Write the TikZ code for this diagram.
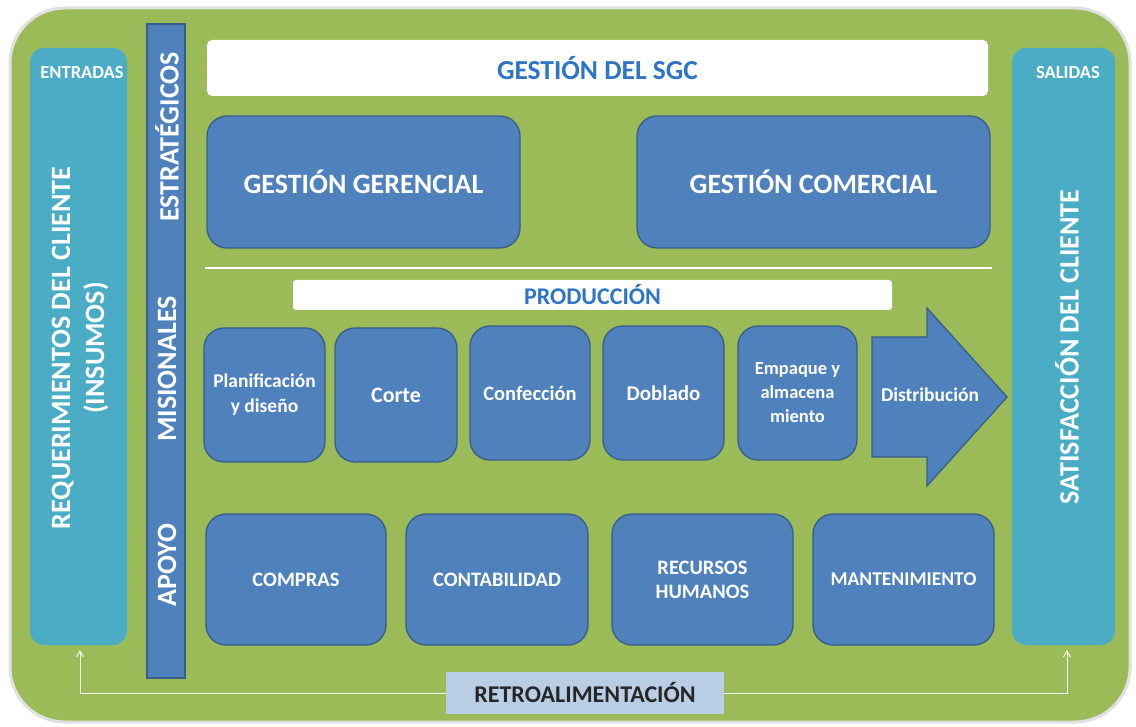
\documentclass[tikz,border=0pt]{standalone}
\usepackage{fontspec}
\setmainfont{Carlito}
\usetikzlibrary{arrows.meta}
\definecolor{bggreen}{HTML}{9BBB59}
\definecolor{cyanbox}{HTML}{4BACC6}
\definecolor{bluebox}{HTML}{4F81BD}
\definecolor{blueedge}{HTML}{385D8A}
\definecolor{titleblue}{HTML}{2E75C6}
\definecolor{retrofill}{HTML}{B9CDE5}
\tikzset{
  procbox/.style={draw=blueedge, line width=1.3pt, fill=bluebox, rounded corners=20pt, text=white, font=\bfseries, align=center, inner sep=2pt},
  sidebox/.style={fill=cyanbox, rounded corners=14pt},
  whitebar/.style={fill=white, rounded corners=5pt, text=titleblue, font=\bfseries},
  vlabel/.style={rotate=90, text=white, font=\bfseries, align=center},
  feed/.style={draw=white!90!bggreen, line width=1pt, -{Straight Barb[length=6pt,width=7pt]}}
}
\begin{document}
\begin{tikzpicture}[x=1pt,y=-1pt]
\useasboundingbox (0,0) rectangle (1136,727);
\fill[white] (0,0) rectangle (1136,727);
% outer frame
\draw[draw=black!12, line width=3pt, fill=bggreen, rounded corners=55pt] (10,8) rectangle (1130,722);
% side boxes
\node[sidebox, minimum width=97pt, minimum height=597pt] (inbox) at (78.5,346.5) {};
\node[sidebox, minimum width=103pt, minimum height=597pt] (outbox) at (1063.5,346.5) {};
\node[text=white, font=\bfseries\fontsize{18.5}{20}\selectfont] (entradas) at (82,73) {ENTRADAS};
\node[text=white, font=\bfseries\fontsize{18.5}{20}\selectfont] (salidas) at (1068,73) {SALIDAS};
\node[vlabel, font=\bfseries\fontsize{28}{34}\selectfont] (req) at (80,348) {REQUERIMIENTOS DEL CLIENTE\\(INSUMOS)};
\node[vlabel, font=\bfseries\fontsize{28}{30}\selectfont] (sat) at (1067,347) {SATISFACCIÓN DEL CLIENTE};
% vertical bar
\node[draw=blueedge, line width=1.3pt, fill=bluebox, minimum width=38pt, minimum height=654pt, inner sep=0pt] (vbar) at (166,351) {};
\node[vlabel, font=\bfseries\fontsize{28}{30}\selectfont] (estr) at (167,137) {ESTRATÉGICOS};
\node[vlabel, font=\bfseries\fontsize{28}{30}\selectfont] (misi) at (167,369) {MISIONALES};
\node[vlabel, font=\bfseries\fontsize{28}{30}\selectfont] (apoyo) at (167,565) {APOYO};
% top
\node[whitebar, minimum width=781pt, minimum height=56pt, font=\bfseries\fontsize{27.5}{30}\selectfont] (sgc) at (597.5,68) {GESTIÓN DEL SGC};
\node[procbox, minimum width=313pt, minimum height=132pt, font=\bfseries\fontsize{28}{30}\selectfont] (ger) at (363.5,182) {GESTIÓN GERENCIAL};
\node[procbox, minimum width=353pt, minimum height=132pt, font=\bfseries\fontsize{28}{30}\selectfont] (com) at (813.5,182) {GESTIÓN COMERCIAL};
\coordinate (lineL) at (205,268);
\coordinate (lineR) at (992,268);
\draw[white, line width=1.2pt] (lineL) -- (lineR);
\node[whitebar, rounded corners=3pt, minimum width=599pt, minimum height=30pt, font=\bfseries\fontsize{24}{26}\selectfont] (prod) at (592.5,295) {PRODUCCIÓN};
% process boxes
\node[procbox, minimum width=121pt, minimum height=134pt, font=\bfseries\fontsize{19.5}{25}\selectfont] (plan) at (264.5,395) {Planificación\\y diseño};
\node[procbox, minimum width=122pt, minimum height=134pt, font=\bfseries\fontsize{22}{24}\selectfont] (corte) at (396,395) {Corte};
\node[procbox, minimum width=120pt, minimum height=134pt, font=\bfseries\fontsize{20.5}{24}\selectfont] (conf) at (530,393) {Confección};
\node[procbox, minimum width=121pt, minimum height=134pt, font=\bfseries\fontsize{21}{24}\selectfont] (dobl) at (663.5,393) {Doblado};
\node[procbox, minimum width=119pt, minimum height=134pt, font=\bfseries\fontsize{18.5}{24}\selectfont] (emp) at (797.5,393) {Empaque y\\almacena\\miento};
% arrow
\draw[draw=blueedge, line width=1.3pt, fill=bluebox, line join=miter] (872,337) -- (927,337) -- (927,308) -- (1007,397) -- (927,486) -- (927,457) -- (872,457) -- cycle;
\node[text=white, font=\bfseries\fontsize{19.5}{22}\selectfont] (dist) at (930,395) {Distribución};
% support
\node[procbox, minimum width=180pt, minimum height=131pt, font=\bfseries\fontsize{20.5}{24}\selectfont] (compras) at (296,579.5) {COMPRAS};
\node[procbox, minimum width=182pt, minimum height=131pt, font=\bfseries\fontsize{20.5}{24}\selectfont] (conta) at (497,579.5) {CONTABILIDAD};
\node[procbox, minimum width=181pt, minimum height=131pt, font=\bfseries\fontsize{20.5}{24}\selectfont] (rrhh) at (702.5,579.5) {RECURSOS\\HUMANOS};
\node[procbox, minimum width=181pt, minimum height=131pt, font=\bfseries\fontsize{19.5}{24}\selectfont] (mant) at (903.5,579.5) {MANTENIMIENTO};
% feedback
\node[fill=retrofill, minimum width=278pt, minimum height=42pt, text=black!85, font=\bfseries\fontsize{24}{26}\selectfont] (retro) at (585,693) {RETROALIMENTACIÓN};
\coordinate (fbL) at (80,693);
\coordinate (fbR) at (1067,693);
\draw[feed] (retro.west) -- (fbL) -- (80,650);
\draw[feed] (retro.east) -- (fbR) -- (1067,650);
\end{tikzpicture}
\end{document}
